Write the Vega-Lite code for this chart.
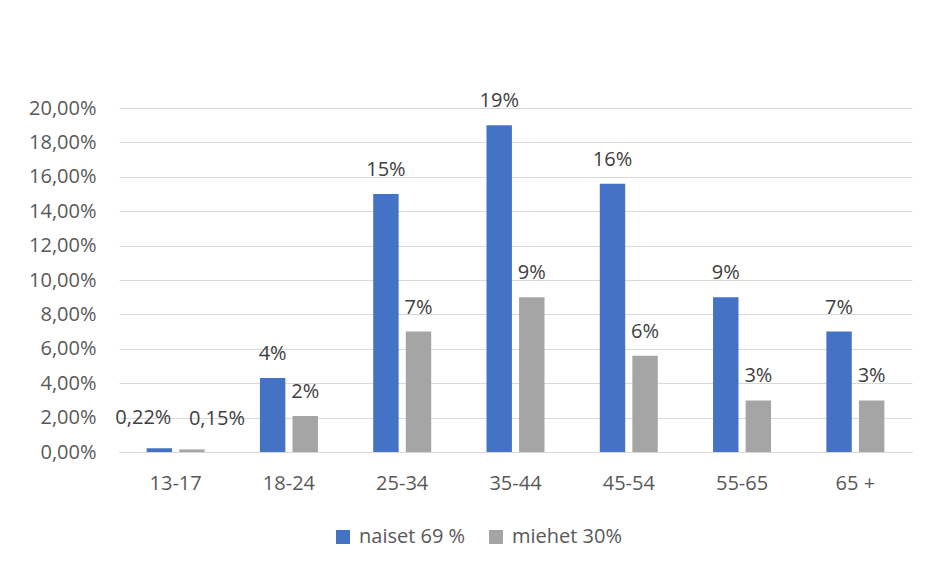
{
  "$schema": "https://vega.github.io/schema/vega-lite/v6.json",
  "autosize": "none",
  "width": 793,
  "height": 344,
  "padding": {"left": 119, "top": 108, "right": 16, "bottom": 117},
  "background": "white",
  "data": {
    "values": [
      {"ika": "13-17", "sukupuoli": "naiset 69 %", "osuus": 0.0022},
      {"ika": "13-17", "sukupuoli": "miehet 30%", "osuus": 0.0015},
      {"ika": "18-24", "sukupuoli": "naiset 69 %", "osuus": 0.043},
      {"ika": "18-24", "sukupuoli": "miehet 30%", "osuus": 0.021},
      {"ika": "25-34", "sukupuoli": "naiset 69 %", "osuus": 0.15},
      {"ika": "25-34", "sukupuoli": "miehet 30%", "osuus": 0.07},
      {"ika": "35-44", "sukupuoli": "naiset 69 %", "osuus": 0.19},
      {"ika": "35-44", "sukupuoli": "miehet 30%", "osuus": 0.09},
      {"ika": "45-54", "sukupuoli": "naiset 69 %", "osuus": 0.156},
      {"ika": "45-54", "sukupuoli": "miehet 30%", "osuus": 0.056},
      {"ika": "55-65", "sukupuoli": "naiset 69 %", "osuus": 0.09},
      {"ika": "55-65", "sukupuoli": "miehet 30%", "osuus": 0.03},
      {"ika": "65 +", "sukupuoli": "naiset 69 %", "osuus": 0.07},
      {"ika": "65 +", "sukupuoli": "miehet 30%", "osuus": 0.03}
    ]
  },
  "encoding": {
    "x": {
      "field": "ika",
      "type": "nominal",
      "sort": ["13-17", "18-24", "25-34", "35-44", "45-54", "55-65", "65 +"],
      "scale": {"paddingInner": 0.488, "paddingOuter": 0.244},
      "axis": {
        "title": null,
        "labelAngle": 0,
        "ticks": false,
        "domainColor": "#D9D9D9",
        "domainWidth": 1,
        "labelPadding": 21,
        "grid": false
      }
    },
    "xOffset": {
      "field": "sukupuoli",
      "type": "nominal",
      "sort": ["naiset 69 %", "miehet 30%"],
      "scale": {"paddingInner": 0.22}
    },
    "y": {
      "field": "osuus",
      "type": "quantitative",
      "scale": {"domain": [0, 0.2], "nice": false},
      "axis": {
        "title": null,
        "values": [0, 0.02, 0.04, 0.06, 0.08, 0.1, 0.12, 0.14, 0.16, 0.18, 0.2],
        "format": ".2%",
        "domain": false,
        "ticks": false,
        "labelPadding": 23,
        "gridColor": "#D9D9D9",
        "gridWidth": 1
      }
    }
  },
  "layer": [
    {
      "mark": {"type": "bar"},
      "encoding": {
        "color": {
          "field": "sukupuoli",
          "type": "nominal",
          "sort": ["naiset 69 %", "miehet 30%"],
          "scale": {"domain": ["naiset 69 %", "miehet 30%"], "range": ["#4472C4", "#A5A5A5"]},
          "legend": {
            "title": null,
            "orient": "none",
            "direction": "horizontal",
            "legendX": 214,
            "legendY": 419,
            "padding": 0,
            "symbolType": "square",
            "symbolSize": 196,
            "symbolStrokeWidth": 0,
            "labelOffset": 6,
            "columnPadding": 20,
            "labelFontSize": 20,
            "labelColor": "#595959",
            "labelFont": "Open Sans"
          }
        }
      }
    },
    {
      "transform": [{"filter": "datum.ika !== '13-17'"}],
      "mark": {"type": "text", "baseline": "alphabetic", "dy": -18, "fontSize": 20, "color": "#404040", "font": "Open Sans"},
      "encoding": {"text": {"field": "osuus", "type": "quantitative", "format": ".0%"}}
    },
    {
      "transform": [{"filter": "datum.ika === '13-17' && datum.sukupuoli === 'naiset 69 %'"}],
      "mark": {"type": "text", "baseline": "alphabetic", "dy": -24, "dx": -16, "fontSize": 20, "color": "#404040", "font": "Open Sans"},
      "encoding": {"text": {"field": "osuus", "type": "quantitative", "format": ".2%"}}
    },
    {
      "transform": [{"filter": "datum.ika === '13-17' && datum.sukupuoli === 'miehet 30%'"}],
      "mark": {"type": "text", "baseline": "alphabetic", "dy": -24, "dx": 25, "fontSize": 20, "color": "#404040", "font": "Open Sans"},
      "encoding": {"text": {"field": "osuus", "type": "quantitative", "format": ".2%"}}
    }
  ],
  "config": {
    "locale": {
      "number": {
        "decimal": ",",
        "thousands": "\u00a0",
        "grouping": [3],
        "currency": ["", "\u00a0€"],
        "percent": "%"
      }
    },
    "view": {"stroke": null},
    "axis": {
      "labelFont": "Open Sans",
      "labelFontSize": 20,
      "labelColor": "#595959"
    }
  }
}
